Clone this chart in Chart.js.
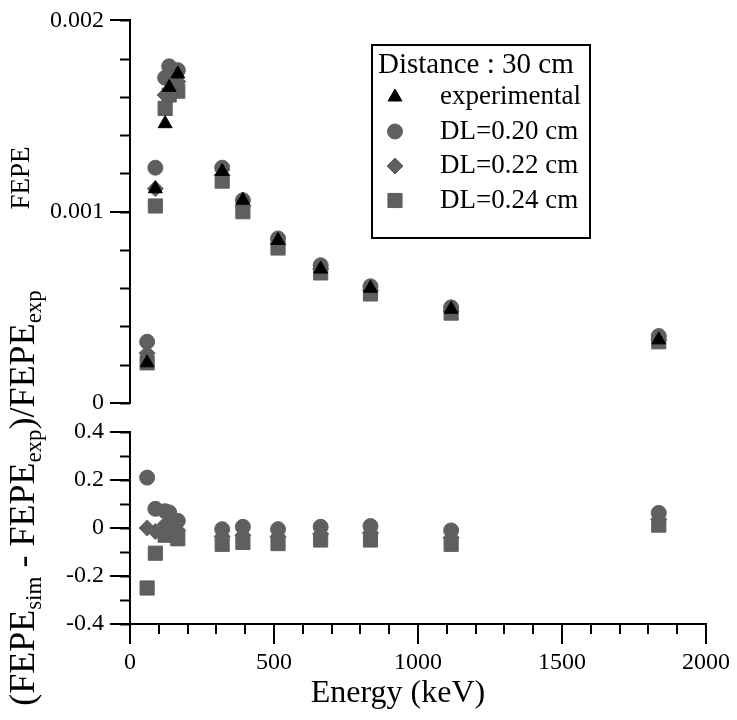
<!DOCTYPE html>
<html>
<head>
<meta charset="utf-8">
<script src="https://cdn.jsdelivr.net/npm/chart.js@4.4.0/dist/chart.umd.min.js"></script>
<style>
  body { margin: 0; background: #fff; }
  #wrap { position: relative; width: 737px; height: 720px; }
  canvas { position: absolute; left: 0; top: 0; }
</style>
</head>
<body>
<div id="wrap">
  <canvas id="bottom" width="737" height="720"></canvas>
  <canvas id="top" width="737" height="720"></canvas>
</div>
<script>
// energies of the gamma lines (keV)
const energies = [59.5, 88, 122, 136, 166, 320, 392, 514, 662, 835, 1115, 1836];

// full energy peak efficiency, distance 30 cm
const fepeExp   = [0.00021, 0.00112, 0.00146, 0.00165, 0.00172, 0.00121, 0.00106, 0.00085, 0.00070, 0.00060, 0.00049, 0.00033];
const fepeDL020 = [0.00032, 0.00123, 0.00170, 0.00176, 0.00174, 0.00123, 0.00106, 0.00086, 0.00072, 0.00061, 0.00050, 0.00035];
const fepeDL022 = [0.00026, 0.00112, 0.00161, 0.00168, 0.00168, 0.00119, 0.00103, 0.00083, 0.00070, 0.00059, 0.00048, 0.00033];
const fepeDL024 = [0.00021, 0.00103, 0.00154, 0.00161, 0.00163, 0.00116, 0.00100, 0.00081, 0.00068, 0.00057, 0.00047, 0.00032];

// relative deviation (sim - exp) / exp
const resDL020 = [0.21, 0.08, 0.07, 0.065, 0.03, -0.005, 0.005, -0.005, 0.005, 0.008, -0.01, 0.063];
const resDL022 = [0.0, -0.015, 0.015, 0.02, -0.01, -0.035, -0.03, -0.035, -0.025, -0.02, -0.04, 0.035];
const resDL024 = [-0.25, -0.105, -0.03, -0.025, -0.045, -0.068, -0.06, -0.065, -0.05, -0.05, -0.068, 0.012];

// ticks
const topYTicks = [0, 0.001, 0.002];
const topYLabels = ['0', '0.001', '0.002'];
const botYTicks = [-0.4, -0.2, 0, 0.2, 0.4];
const botYLabels = ['-0.4', '-0.2', '0', '0.2', '0.4'];
const xTicks = [0, 500, 1000, 1500, 2000];
const xLabels = ['0', '500', '1000', '1500', '2000'];

const FONT = 'Liberation Serif, Times New Roman, serif';
const GRAY = '#5f5f5f';

function pts(ys) {
    return energies.map((e, i) => ({ x: e, y: ys[i] }));
}

// minor tick marks drawn through the scales
const minorTicks = {
    id: 'minorTicks',
    afterDraw(chart, args, opts) {
        const ctx = chart.ctx;
        const area = chart.chartArea;
        ctx.save();
        ctx.strokeStyle = '#000';
        ctx.lineWidth = 2;
        if (opts.y) {
            const s = chart.scales.y;
            for (let v = s.min; v <= s.max + opts.y / 2; v += opts.y) {
                const p = Math.round(s.getPixelForValue(v)) + 0.5;
                ctx.beginPath();
                ctx.moveTo(area.left - 10, p);
                ctx.lineTo(area.left, p);
                ctx.stroke();
            }
        }
        if (opts.x) {
            const s = chart.scales.x;
            for (let v = s.min; v <= s.max + opts.x / 2; v += opts.x) {
                const p = Math.round(s.getPixelForValue(v));
                ctx.beginPath();
                ctx.moveTo(p, area.bottom);
                ctx.lineTo(p, area.bottom + 10);
                ctx.stroke();
            }
        }
        ctx.restore();
    }
};

// legend box inside the top panel, plus the FEPE axis title
const boxLegend = {
    id: 'boxLegend',
    afterDraw(chart) {
        const ctx = chart.ctx;
        ctx.save();
        ctx.fillStyle = '#fff';
        ctx.fillRect(372, 45, 218, 193);
        ctx.strokeStyle = '#000';
        ctx.lineWidth = 2;
        ctx.strokeRect(372, 45, 218, 193);
        ctx.fillStyle = '#000';
        ctx.textBaseline = 'middle';
        ctx.font = '29px ' + FONT;
        ctx.fillText('Distance : 30 cm', 378, 65);
        ctx.font = '27px ' + FONT;
        chart.data.datasets.forEach((ds, i) => {
            const y = 97 + i * 34.5;
            ctx.fillStyle = ds.pointBackgroundColor;
            ctx.strokeStyle = ds.pointBorderColor;
            ctx.lineWidth = 1;
            Chart.helpers.drawPoint(ctx, { pointStyle: ds.pointStyle, radius: ds.pointRadius, rotation: 0, borderWidth: 1 }, 395, y);
            ctx.fillStyle = '#000';
            ctx.fillText(ds.label, 440, y);
        });

        ctx.translate(22, 178);
        ctx.rotate(-Math.PI / 2);
        ctx.textAlign = 'center';
        ctx.font = '27px ' + FONT;
        ctx.fillText('FEPE', 0, 0);
        ctx.restore();
    }
};

// rotated y title with subscripts for the lower panel, and the x title
const subTitle = {
    id: 'subTitle',
    afterDraw(chart) {
        const ctx = chart.ctx;
        const parts = [
            ['(FEPE', false], ['sim', true], [' - FEPE', false], ['exp', true], [')/FEPE', false], ['exp', true]
        ];
        const big = '36px ' + FONT, small = '23px ' + FONT;
        ctx.save();
        ctx.fillStyle = '#000';
        ctx.textBaseline = 'middle';
        ctx.textAlign = 'center';
        ctx.font = '32px ' + FONT;
        ctx.fillText('Energy (keV)', 398, 694);

        ctx.textAlign = 'left';
        let total = 0;
        parts.forEach(p => { ctx.font = p[1] ? small : big; total += ctx.measureText(p[0]).width; });
        ctx.translate(34, 498);
        ctx.rotate(-Math.PI / 2);
        ctx.textBaseline = 'alphabetic';
        let x = -total / 2;
        parts.forEach(p => {
            ctx.font = p[1] ? small : big;
            ctx.fillText(p[0], x, p[1] ? 7 : 0);
            x += ctx.measureText(p[0]).width;
        });
        ctx.restore();
    }
};

function yAxis(min, max, ticks, labels) {
    return {
        type: 'linear',
        min: min,
        max: max,
        afterFit: s => { s.width = 130; },
        afterBuildTicks: s => { s.ticks = ticks.map(v => ({ value: v })); },
        ticks: {
            color: '#000',
            font: { family: FONT, size: 24 },
            padding: 6,
            callback: v => labels[ticks.indexOf(v)]
        },
        grid: { drawOnChartArea: false, tickLength: 20, color: '#000', lineWidth: 2 },
        border: { display: true, color: '#000', width: 2 }
    };
}

const triangleStyle = { pointStyle: 'triangle', pointRadius: 8, pointBackgroundColor: '#000', pointBorderColor: '#000' };
const circleStyle = { pointStyle: 'circle', pointRadius: 7.5, pointBackgroundColor: GRAY, pointBorderColor: GRAY };
const diamondStyle = { pointStyle: 'rectRot', pointRadius: 8, pointBackgroundColor: GRAY, pointBorderColor: GRAY };
const squareStyle = { pointStyle: 'rect', pointRadius: 10, pointBackgroundColor: GRAY, pointBorderColor: GRAY };

new Chart(document.getElementById('top'), {
    type: 'scatter',
    data: {
        datasets: [
            Object.assign({ label: 'experimental', data: pts(fepeExp) }, triangleStyle),
            Object.assign({ label: 'DL=0.20 cm', data: pts(fepeDL020) }, circleStyle),
            Object.assign({ label: 'DL=0.22 cm', data: pts(fepeDL022) }, diamondStyle),
            Object.assign({ label: 'DL=0.24 cm', data: pts(fepeDL024) }, squareStyle)
        ]
    },
    options: {
        responsive: false,
        animation: false,
        devicePixelRatio: 1,
        layout: { padding: { top: 19, left: 0, right: 31, bottom: 317 } },
        scales: {
            x: { type: 'linear', min: 0, max: 2000, display: false },
            y: yAxis(0, 0.002, topYTicks, topYLabels)
        },
        plugins: {
            legend: { display: false },
            tooltip: { enabled: false },
            minorTicks: { y: 0.0002 }
        }
    },
    plugins: [minorTicks, boxLegend]
});

const xAxis = {
    type: 'linear',
    min: 0,
    max: 2000,
    afterFit: s => { s.height = 96; },
    afterBuildTicks: s => { s.ticks = xTicks.map(v => ({ value: v })); },
    ticks: {
        color: '#000',
        font: { family: FONT, size: 24 },
        padding: 4,
        maxRotation: 0,
        autoSkip: false,
        callback: v => xLabels[xTicks.indexOf(v)]
    },
    grid: { drawOnChartArea: false, tickLength: 20, color: '#000', lineWidth: 2 },
    border: { display: true, color: '#000', width: 2 }
};

new Chart(document.getElementById('bottom'), {
    type: 'scatter',
    data: {
        datasets: [
            Object.assign({ label: 'DL=0.20 cm', data: pts(resDL020) }, circleStyle),
            Object.assign({ label: 'DL=0.22 cm', data: pts(resDL022) }, diamondStyle),
            Object.assign({ label: 'DL=0.24 cm', data: pts(resDL024) }, squareStyle)
        ]
    },
    options: {
        responsive: false,
        animation: false,
        devicePixelRatio: 1,
        layout: { padding: { top: 432, left: 0, right: 31, bottom: 0 } },
        scales: {
            x: xAxis,
            y: yAxis(-0.4, 0.4, botYTicks, botYLabels)
        },
        plugins: {
            legend: { display: false },
            tooltip: { enabled: false },
            minorTicks: { y: 0.1, x: 100 }
        }
    },
    plugins: [minorTicks, subTitle]
});
</script>
</body>
</html>
